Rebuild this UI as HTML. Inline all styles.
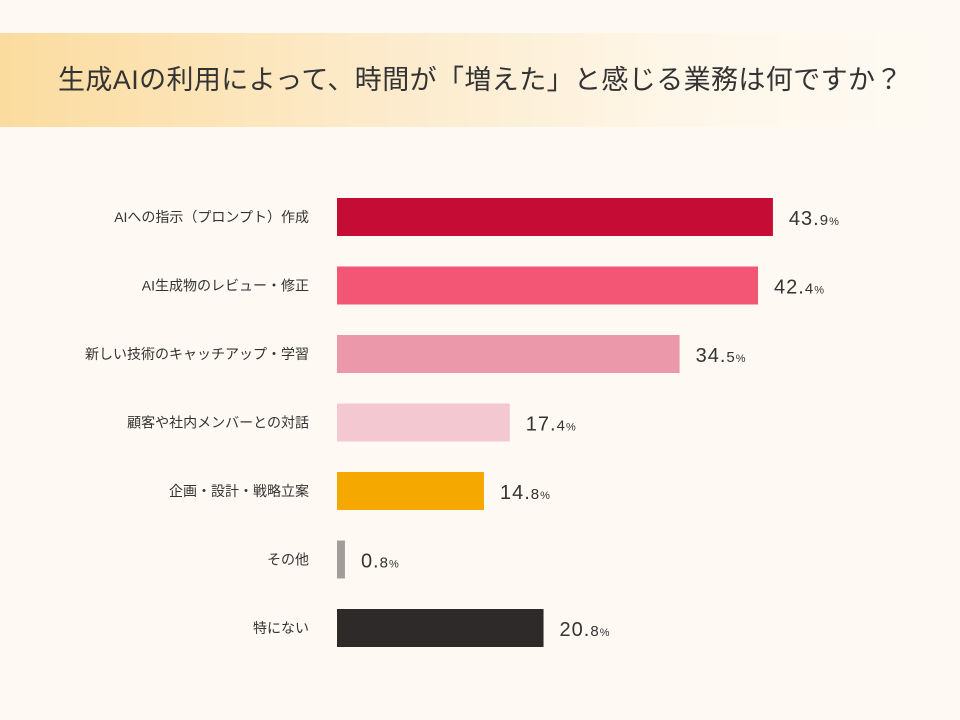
<!DOCTYPE html>
<html><head><meta charset="utf-8"><style>
html,body{margin:0;padding:0;width:960px;height:720px;overflow:hidden;background:#fefaf3;font-family:"Liberation Sans","Noto Sans CJK JP",sans-serif;}
#banner{position:absolute;left:0;top:33px;width:960px;height:94px;background:linear-gradient(90deg,#fbdc9f 0%,#fce9c6 35%,#fef6e8 70%,#fefaf3 97%);}
#title{position:absolute;left:0;top:33px;width:960px;height:94px;line-height:94px;font-size:27px;color:#333;padding-left:58px;box-sizing:border-box;white-space:nowrap;letter-spacing:0.4px;}
</style></head><body>
<div id="banner"></div>
<div id="title">生成AIの利用によって、時間が「増えた」と感じる業務は何ですか？</div>
<svg id="chart" width="960" height="720" style="position:absolute;left:0;top:0"></svg>
<script>
const categories=["AIへの指示（プロンプト）作成","AI生成物のレビュー・修正","新しい技術のキャッチアップ・学習","顧客や社内メンバーとの対話","企画・設計・戦略立案","その他","特にない"];
const values=[43.9,42.4,34.5,17.4,14.8,0.8,20.8];
const colors=["#c50c34","#f35675","#eb99aa","#f3c8d0","#f4a800","#a39d9a","#2f2a2a"];
const svg=document.getElementById('chart');
const NS="http://www.w3.org/2000/svg";
const x0=337,pxPer=9.93,rowY0=217,rowStep=68.5,barH=38;
function xScale(v){return x0+v*pxPer;}
function yScale(i){return rowY0+i*rowStep;}
categories.forEach((c,i)=>{
  const cy=yScale(i);
  const r=document.createElementNS(NS,'rect');
  
  
  r.setAttribute('x',x0);r.setAttribute('y',cy-barH/2);
  r.setAttribute('width',xScale(values[i])-x0);r.setAttribute('height',barH);
  r.setAttribute('fill',colors[i]);
  svg.appendChild(r);
  const l=document.createElementNS(NS,'text');
  
  
  l.setAttribute('x',309);l.setAttribute('y',cy+5);
  l.setAttribute('text-anchor','end');l.setAttribute('font-size','14');l.setAttribute('fill','#333');
  l.textContent=c;svg.appendChild(l);
  const v=document.createElementNS(NS,'text');
  
  
  v.setAttribute('x',xScale(values[i])+16);v.setAttribute('y',cy+8);
  v.setAttribute('font-size','20');v.setAttribute('fill','#333');v.setAttribute('letter-spacing','1');
  const s=document.createElementNS(NS,'tspan');s.textContent=values[i].toFixed(1).split('.')[0]+'.';
  const t=document.createElementNS(NS,'tspan');t.setAttribute('font-size','15');t.textContent=values[i].toFixed(1).split('.')[1];
  const p=document.createElementNS(NS,'tspan');p.setAttribute('font-size','11');p.textContent='%';
  v.appendChild(s);v.appendChild(t);v.appendChild(p);
  svg.appendChild(v);
});
</script>
</body></html>
